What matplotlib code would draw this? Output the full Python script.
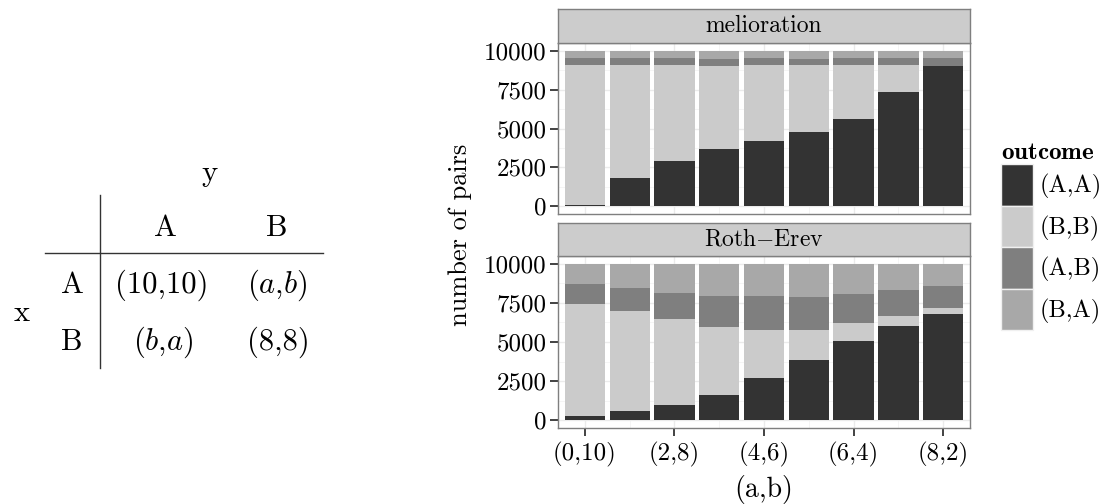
import numpy as np
import matplotlib
matplotlib.use("Agg")
import matplotlib.pyplot as plt
from matplotlib.patches import Patch

plt.rcParams['font.family'] = 'serif'
plt.rcParams['font.serif'] = ['cmr10']
plt.rcParams['mathtext.fontset'] = 'cm'
plt.rcParams['axes.unicode_minus'] = False

# data
pairs = ['(0,10)', '(1,9)', '(2,8)', '(3,7)', '(4,6)', '(5,5)', '(6,4)', '(7,3)', '(8,2)']
outcomes = ['(A,A)', '(B,B)', '(A,B)', '(B,A)']
colors = ['#333333', '#cbcbcb', '#7f7f7f', '#a8a8a8']

# melioration
mel_AA = [110, 1830, 2930, 3690, 4200, 4760, 5580, 7320, 9000]
mel_BB = [8980, 7250, 6150, 5330, 4880, 4310, 3500, 1760, 40]
mel_AB = [420, 430, 430, 430, 430, 430, 430, 430, 470]
mel_BA = [490, 490, 490, 550, 490, 500, 490, 490, 490]

# Roth-Erev
re_AA = [280, 590, 970, 1630, 2690, 3850, 5050, 6030, 6810]
re_BB = [7180, 6410, 5500, 4310, 3100, 1940, 1170, 630, 360]
re_AB = [1230, 1440, 1690, 1970, 2120, 2070, 1840, 1650, 1420]
re_BA = [1310, 1560, 1840, 2090, 2090, 2140, 1940, 1690, 1410]

panels = [('melioration', [mel_AA, mel_BB, mel_AB, mel_BA]),
          ('Roth$-$Erev', [re_AA, re_BB, re_AB, re_BA])]

yticks = [0, 2500, 5000, 7500, 10000]
xtick_idx = [0, 2, 4, 6, 8]

W, H = 1117, 504
fig = plt.figure(figsize=(W / 100, H / 100), dpi=100)

def box(x0, y0, x1, y1):
    return [x0 / W, 1 - y1 / H, (x1 - x0) / W, (y1 - y0) / H]

# ---- game table on the left ----
fs_tab = 22
t = fig.text
t(210 / W, 1 - 173 / H, 'y', fontsize=fs_tab, ha='center', va='center')
t(165 / W, 1 - 228 / H, 'A', fontsize=fs_tab, ha='center', va='center')
t(277 / W, 1 - 228 / H, 'B', fontsize=fs_tab, ha='center', va='center')
t(72 / W, 1 - 285 / H, 'A', fontsize=fs_tab, ha='center', va='center')
t(72 / W, 1 - 342 / H, 'B', fontsize=fs_tab, ha='center', va='center')
t(22 / W, 1 - 313 / H, 'x', fontsize=fs_tab, ha='center', va='center')
t(162 / W, 1 - 285 / H, '(10,10)', fontsize=fs_tab, ha='center', va='center')
t(277 / W, 1 - 285 / H, r'$(a$,$b)$', fontsize=fs_tab, ha='center', va='center')
t(163 / W, 1 - 342 / H, r'$(b$,$a)$', fontsize=fs_tab, ha='center', va='center')
t(278 / W, 1 - 342 / H, '(8,8)', fontsize=fs_tab, ha='center', va='center')
fig.add_artist(plt.Line2D([45 / W, 323 / W], [1 - 253 / H, 1 - 253 / H], color='#333333', lw=1))
fig.add_artist(plt.Line2D([100 / W, 100 / W], [1 - 195 / H, 1 - 368 / H], color='#333333', lw=1))

# ---- faceted stacked bars ----
x = np.arange(1, len(pairs) + 1)
panel_boxes = [(558, 43, 970, 214), (558, 256, 970, 428)]
strip_boxes = [(558, 9, 970, 43), (558, 223, 970, 256)]

for (title, series), pb, sb in zip(panels, panel_boxes, strip_boxes):
    ax = fig.add_axes(box(*pb))
    bottom = np.zeros(len(pairs))
    for vals, c in zip(series, colors):
        ax.bar(x, vals, width=0.9, bottom=bottom, color=c, edgecolor='none', zorder=3)
        bottom += np.array(vals)
    ax.set_xlim(0.4, len(pairs) + 0.6)
    ax.set_ylim(-500, 10500)
    ax.set_yticks(yticks, [str(v) for v in yticks])
    ax.set_yticks([1250, 3750, 6250, 8750], minor=True)
    ax.set_xticks(x[xtick_idx])
    ax.set_xticks([2, 4, 6, 8], minor=True)
    ax.grid(True, which='major', color='#ebebeb', lw=1, zorder=0)
    ax.grid(True, which='minor', color='#f4f4f4', lw=0.6, zorder=0)
    ax.tick_params(which='minor', length=0)
    ax.tick_params(which='major', length=6, width=1.2, color='#222222', labelsize=18, pad=2)
    ax.tick_params(axis='x', which='major', pad=4)
    for s in ax.spines.values():
        s.set_color('#7f7f7f')
        s.set_linewidth(1)
    if pb is panel_boxes[0]:
        ax.set_xticklabels([])
        ax.tick_params(axis='x', which='major', length=0)
    else:
        ax.set_xticklabels([pairs[i] for i in xtick_idx])
        ax.set_xlabel('(a,b)', fontsize=20, labelpad=6)

    sax = fig.add_axes(box(*sb))
    sax.set_facecolor('#cccccc')
    sax.set_xticks([])
    sax.set_yticks([])
    for s in sax.spines.values():
        s.set_color('#7f7f7f')
        s.set_linewidth(1)
    sax.text(0.5, 0.5, title, fontsize=17, ha='center', va='center', transform=sax.transAxes)

fig.text(460 / W, 1 - 235 / H, 'number of pairs', fontsize=19, rotation=90,
         ha='center', va='center')

# legend
handles = [Patch(facecolor=c, edgecolor='#f0f0f0') for c in colors]
leg = fig.legend(handles, outcomes, loc='upper left', bbox_to_anchor=(1001 / W, 1 - 142 / H),
                 frameon=False, fontsize=17.5, title=r'$\mathbf{outcome}$', title_fontsize=18,
                 handlelength=1.3, handleheight=2.25, handletextpad=0.3, labelspacing=0,
                 borderaxespad=0, borderpad=0)
leg._legend_box.align = 'left'

fig.savefig('out.png', dpi=100)
